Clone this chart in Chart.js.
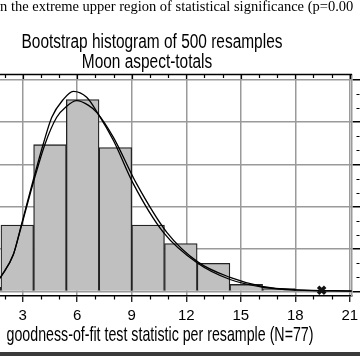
<!DOCTYPE html>
<html>
<head>
<meta charset="utf-8">
<script src="https://cdn.jsdelivr.net/npm/chart.js@4/dist/chart.umd.min.js"></script>
<style>
  html, body { margin:0; padding:0; background:#fff; }
  #wrap { position:relative; width:360px; height:356px; overflow:hidden; background:#fff; }
  #c { position:absolute; left:0; top:0; }
  .t { position:absolute; white-space:nowrap; color:#000; }
  .cond { text-align:center; width:600px; transform-origin:50% 50%; font-family:"Liberation Sans", Arial, sans-serif; }
  #bottomband { position:absolute; left:0; top:352px; width:360px; height:4px; background:#3a3a3a; }
</style>
</head>
<body>
<div id="wrap">
  <canvas id="c" width="360" height="356"></canvas>
  <div class="t" style="left:-4px; top:-1.1px; font:14.5px/14.5px 'Liberation Serif', 'Times New Roman', serif;">in the extreme upper region of statistical significance (p=0.00</div>
  <div class="t cond" style="left:-147.7px; top:30.8px; font-size:20px; line-height:20px; transform:scaleX(0.772);">Bootstrap histogram of 500 resamples</div>
  <div class="t cond" style="left:-153.3px; top:50.8px; font-size:20px; line-height:20px; transform:scaleX(0.772);">Moon aspect-totals</div>
  <div class="t cond" style="left:-140.5px; top:322.7px; font-size:21px; line-height:21px; transform:scaleX(0.677);">goodness-of-fit test statistic per resample (N=77)</div>
  <div id="bottomband"></div>
</div>
<script>
// ---- data ----
const binCenters = [0.9, 2.7, 4.5, 6.3, 8.1, 9.9, 11.7, 13.5, 15.3, 17.1, 18.9, 20.7];
const binCounts  = [3, 47, 104, 136, 102, 47, 34, 20, 5, 2, 0, 0];

const curveAx = [1.75, 2.48, 2.9, 3.58, 4.13, 4.6, 5.2, 5.78, 6.52, 7.16, 8.0, 9.09, 10.74, 12.63, 14.41, 16.24, 18.08, 21.1];
const curveAy = [9.4, 26, 46, 79, 104.5, 123.4, 135.5, 141.8, 137.6, 125.7, 106.8, 76.2, 41.9, 20, 8.5, 3.0, 1.0, 0.3];

const curveBx = [1.75, 2.48, 2.9, 3.58, 4.23, 4.87, 5.4, 5.97, 6.6, 7.07, 7.99, 9.27, 10.93, 12.63, 14.41, 16.24, 18.08, 21.1];
const curveBy = [9.4, 26, 45, 77, 104.5, 123.4, 131, 135.2, 132, 126.9, 109.2, 76.2, 41.9, 21, 10, 3.4, 1.2, 0.4];

const observedX = [19.45];
const observedY = [0.85];

const xTickValues = [3, 6, 9, 12, 15, 18, 21];
const yTickValues = [0, 30, 60, 90, 120, 150];
const xMinorValues = [2,3,4,5,6,7,8,9,10,11,12,13,14,15,16,17,18,19,20,21];
const yMinorValues = [10,20,40,50,70,80,100,110,130,140];

const pts = (xs, ys) => xs.map((v, i) => ({ x: v, y: ys[i] }));

const frame = {
  id: 'frame',
  afterDraw(chart) {
    const { ctx, chartArea: a, scales: { x, y } } = chart;
    ctx.save();
    ctx.strokeStyle = '#000';
    ctx.lineWidth = 1.5;
    ctx.beginPath();
    ctx.moveTo(a.left, a.top); ctx.lineTo(a.right, a.top);
    ctx.stroke();
    ctx.lineWidth = 1.2;
    ctx.beginPath();
    xMinorValues.forEach(v => {
      const px = Math.round(x.getPixelForValue(v)) + 0.5;
      const major = xTickValues.includes(v);
      ctx.moveTo(px, a.top); ctx.lineTo(px, a.top + (major ? 4.5 : 3.5));
      if (!major) { ctx.moveTo(px, a.bottom); ctx.lineTo(px, a.bottom + 3.5); }
    });
    yMinorValues.forEach(v => {
      const py = Math.round(y.getPixelForValue(v)) + 0.5;
      ctx.moveTo(a.right + 4.5, py); ctx.lineTo(a.right + 7.5, py);
    });
    ctx.stroke();
    ctx.restore();
  }
};

new Chart(document.getElementById('c'), {
  type: 'bar',
  data: {
    datasets: [
      {
        type: 'line', label: 'observed', data: pts(observedX, observedY),
        showLine: false, pointStyle: 'crossRot', pointRadius: 5, pointBorderWidth: 3.5,
        pointBorderColor: '#111', pointBackgroundColor: '#111', order: 1
      },
      {
        type: 'line', label: 'fit A', data: pts(curveAx, curveAy),
        borderColor: '#000', borderWidth: 1.3, pointRadius: 0, cubicInterpolationMode: 'monotone', fill: false, order: 2
      },
      {
        type: 'line', label: 'fit B', data: pts(curveBx, curveBy),
        borderColor: '#000', borderWidth: 1.3, pointRadius: 0, cubicInterpolationMode: 'monotone', fill: false, order: 2
      },
      {
        type: 'bar', label: 'resamples', data: pts(binCenters, binCounts),
        backgroundColor: '#c0c0c0', borderColor: '#222', borderWidth: 1.3, borderSkipped: 'bottom',
        barPercentage: 1, categoryPercentage: 1, order: 3
      }
    ]
  },
  options: {
    responsive: false,
    devicePixelRatio: 1,
    animation: false,
    layout: { autoPadding: false, padding: { top: 74.5, left: 0, right: 0, bottom: 0 } },
    plugins: { legend: { display: false }, title: { display: false }, tooltip: { enabled: false } },
    scales: {
      x: {
        type: 'linear', position: 'bottom', min: 1.75, max: 21.12, offset: false,
        grid: { color: '#9a9a9a', lineWidth: 1.5, tickColor: '#000', tickLength: 6, tickWidth: 1.2, offset: false },
        border: { display: true, color: '#000', width: 1.5 },
        ticks: { includeBounds: false, autoSkip: false, maxRotation: 0, color: '#000', padding: 5,
                 font: { family: "'Liberation Sans', Arial, sans-serif", size: 15 } },
        afterBuildTicks: s => { s.ticks = xTickValues.map(v => ({ value: v })); },
        afterFit: s => { s.height = 60; s.paddingLeft = 0; s.paddingRight = 0; }
      },
      y: {
        type: 'linear', position: 'right', min: -3.19, max: 153.7,
        grid: { color: '#9a9a9a', lineWidth: 1.5, tickColor: '#000', tickLength: 8, tickWidth: 1.5 },
        border: { display: true, color: '#9a9a9a', width: 1.5 },
        ticks: { display: false },
        afterBuildTicks: s => { s.ticks = yTickValues.map(v => ({ value: v })); },
        afterFit: s => { s.width = 8; s.paddingTop = 0; s.paddingBottom = 0; }
      }
    }
  },
  plugins: [frame]
});
</script>
</body>
</html>
